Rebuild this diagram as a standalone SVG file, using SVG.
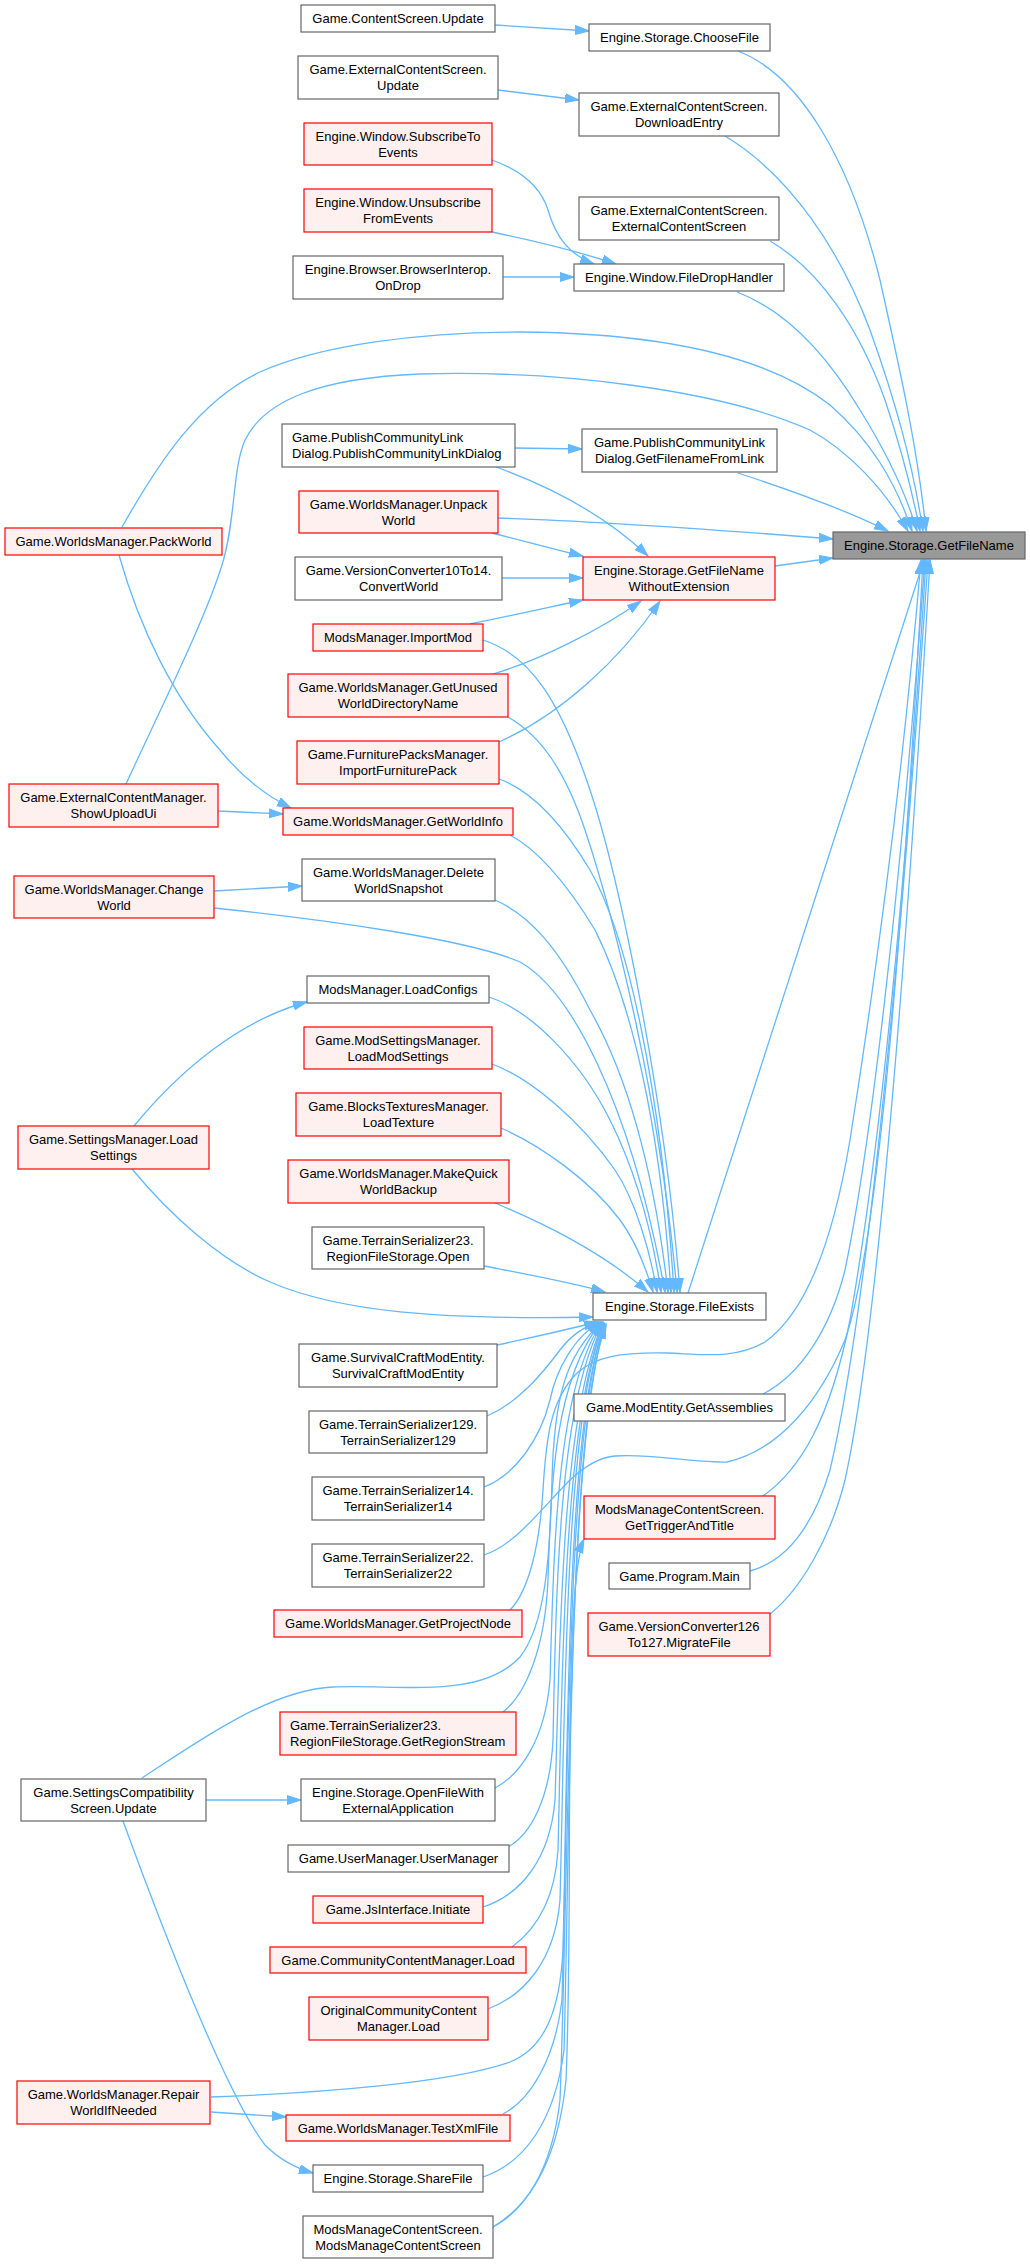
<svg xmlns="http://www.w3.org/2000/svg" width="1030" height="2264" viewBox="0 0 1030 2264">
<defs>
<marker id="ah" markerUnits="userSpaceOnUse" markerWidth="15" markerHeight="11" refX="14" refY="5" orient="auto"><path d="M0,0.5 L14,5 L0,9.5 z" fill="#63b8ff" stroke="#63b8ff" stroke-width="1"/></marker>
<style>
.n rect{fill:#ffffff;stroke:#666666;stroke-width:1.2}
.r rect{fill:#fff0f0;stroke:#ff0000;stroke-width:1.2}
.root rect{fill:#999999;stroke:#666666;stroke-width:1.2}
text{font-family:"Liberation Sans",Arial,sans-serif;font-size:13px;fill:#000000;text-anchor:middle}
text.l{text-anchor:start}
#edges path{fill:none;stroke:#63b8ff;stroke-width:1.3;marker-end:url(#ah)}
</style>
</defs>
<rect width="1030" height="2264" fill="#ffffff"/>
<g id="edges">
<path d="M738,51 C 800,75 850,160 880,280 C 900,370 918,450 926,531"/>
<path d="M725,136 C 790,175 840,250 870,330 C 895,400 912,460 923,531"/>
<path d="M770,241 C 820,270 860,330 885,400 C 900,445 912,490 920,531"/>
<path d="M737,292 C 790,312 830,360 860,410 C 885,450 905,490 917,531"/>
<path d="M122,527 C 160,460 200,400 260,372 C 320,345 420,332 520,332 C 640,333 760,350 830,405 C 870,440 895,480 912,531"/>
<path d="M126,784 C 160,710 205,620 222,565 C 236,520 232,470 245,440 C 265,400 320,378 420,374 C 560,370 720,390 810,430 C 850,452 885,490 908,531"/>
<path d="M738,473 C 790,490 850,512 888,531"/>
<path d="M498,518 C 600,521 720,530 833,539"/>
<path d="M775,566 L833,558"/>
<path d="M688,1293 C 740,1130 860,760 924,560"/>
<path d="M763,1394 C 800,1375 830,1330 845,1270 C 870,1150 900,900 925,560"/>
<path d="M763,1496 C 800,1470 830,1420 850,1320 C 880,1150 905,900 926,560"/>
<path d="M750,1571 C 790,1560 815,1520 830,1470 C 870,1300 905,900 928,560"/>
<path d="M770,1614 C 800,1590 830,1540 845,1480 C 880,1320 910,900 930,560"/>
<path d="M484,1555 C 515,1545 540,1510 570,1480 C 585,1466 600,1457 615,1456 C 650,1453 690,1463 727,1462 C 780,1450 820,1400 845,1340 C 880,1240 905,900 923,560"/>
<path d="M510,1610 C 530,1590 540,1540 543,1490 C 546,1440 550,1400 577,1373 C 595,1357 620,1352 667,1353 C 700,1354 735,1360 765,1342 C 810,1310 835,1230 850,1140 C 880,950 905,750 921,560"/>
<path d="M495,25 C 530,27 560,29 589,31"/>
<path d="M498,90 L579,100"/>
<path d="M492,160 C 520,170 540,185 548,210 C 556,238 570,255 594,264"/>
<path d="M492,232 C 530,240 580,252 616,264"/>
<path d="M503,277 L574,277"/>
<path d="M515,448 L582,449"/>
<path d="M496,467 C 560,490 610,520 648,556"/>
<path d="M492,533 C 520,540 550,548 583,556"/>
<path d="M502,578 L583,578"/>
<path d="M470,624 C 510,616 550,607 583,600"/>
<path d="M493,674 C 540,660 600,630 641,601"/>
<path d="M499,742 C 560,715 620,660 660,601"/>
<path d="M218,811 L283,814"/>
<path d="M119,555 C 140,630 175,700 220,750 C 240,775 265,795 291,808"/>
<path d="M214,891 L302,886"/>
<path d="M134,1126 C 180,1070 240,1020 307,1002"/>
<path d="M206,1800 L301,1800"/>
<path d="M123,1821 C 170,1950 230,2100 265,2145 C 280,2160 295,2168 313,2173"/>
<path d="M211,2112 L286,2117"/>
<path d="M483,640 C 530,655 560,700 590,790 C 620,880 665,1100 680,1292"/>
<path d="M508,717 C 540,735 565,770 585,830 C 615,920 660,1100 677,1292"/>
<path d="M499,779 C 530,790 560,820 590,870 C 630,940 662,1100 674,1292"/>
<path d="M510,835 C 535,848 565,880 595,930 C 630,1000 660,1120 671,1292"/>
<path d="M495,900 C 530,915 560,950 590,1010 C 630,1080 655,1180 668,1292"/>
<path d="M214,908 C 330,920 470,940 520,962 C 570,990 630,1100 665,1292"/>
<path d="M489,997 C 530,1010 580,1060 610,1120 C 635,1170 652,1230 661,1292"/>
<path d="M492,1064 C 530,1078 580,1120 615,1170 C 635,1200 650,1250 657,1292"/>
<path d="M501,1128 C 540,1145 590,1180 620,1220 C 635,1240 645,1265 653,1292"/>
<path d="M495,1203 C 540,1222 600,1250 648,1292"/>
<path d="M484,1266 C 520,1273 570,1282 605,1292"/>
<path d="M132,1169 C 170,1215 220,1260 270,1282 C 340,1312 440,1320 593,1317"/>
<path d="M497,1345 C 530,1338 565,1330 598,1322"/>
<path d="M487,1416 C 520,1402 545,1370 560,1350 C 572,1334 585,1326 600,1322"/>
<path d="M484,1487 C 515,1475 540,1440 550,1400 C 556,1370 575,1335 601,1322"/>
<path d="M503,1712 C 525,1695 545,1650 548,1580 C 551,1480 555,1380 601,1322"/>
<path d="M142,1778 C 200,1740 270,1690 333,1687 C 400,1684 480,1700 520,1657 C 545,1625 550,1560 552,1480 C 554,1400 565,1355 602,1322"/>
<path d="M495,1788 C 520,1775 545,1740 550,1680 C 554,1550 556,1390 602,1322"/>
<path d="M508,1847 C 530,1835 550,1800 553,1740 C 556,1600 558,1400 603,1322"/>
<path d="M483,1907 C 520,1895 550,1860 555,1800 C 560,1650 560,1420 603,1323"/>
<path d="M512,1947 C 535,1930 555,1900 558,1850 C 562,1700 562,1420 604,1323"/>
<path d="M488,2009 C 525,1995 555,1960 560,1900 C 565,1720 564,1420 604,1323"/>
<path d="M211,2097 C 320,2093 450,2083 510,2062 C 545,2048 560,2010 563,1950 C 568,1750 566,1420 605,1324"/>
<path d="M503,2114 C 530,2100 555,2060 562,2000 C 568,1800 567,1420 605,1324"/>
<path d="M483,2177 C 525,2163 555,2120 564,2050 C 570,1850 568,1420 606,1324"/>
<path d="M493,2227 C 525,2210 552,2170 560,2100 C 568,1900 568,1420 606,1325"/>
<path d="M493,2227 C 530,2205 558,2160 566,2080 C 574,1900 562,1590 584,1539"/>
</g>
<g id="n_getfilename" class="root"><rect x="833" y="532" width="192" height="27"/><text x="929" y="550">Engine.Storage.GetFileName</text></g>
<g id="n_choosefile" class="n"><rect x="589" y="24" width="181" height="27"/><text x="679.5" y="42">Engine.Storage.ChooseFile</text></g>
<g id="n_downloadentry" class="n"><rect x="579" y="93" width="200" height="43"/><text x="679" y="111">Game.ExternalContentScreen.</text><text x="679" y="127">DownloadEntry</text></g>
<g id="n_extcontentscreen" class="n"><rect x="579" y="197" width="200" height="43"/><text x="679" y="215">Game.ExternalContentScreen.</text><text x="679" y="231">ExternalContentScreen</text></g>
<g id="n_filedrophandler" class="n"><rect x="574" y="264" width="210" height="27"/><text x="679" y="282">Engine.Window.FileDropHandler</text></g>
<g id="n_getfilenamefromlink" class="n"><rect x="582" y="429" width="195" height="43"/><text x="679.5" y="447">Game.PublishCommunityLink</text><text x="679.5" y="463">Dialog.GetFilenameFromLink</text></g>
<g id="n_getfilenamewoext" class="r"><rect x="583" y="557" width="192" height="43"/><text x="679" y="575">Engine.Storage.GetFileName</text><text x="679" y="591">WithoutExtension</text></g>
<g id="n_fileexists" class="n"><rect x="593" y="1293" width="173" height="27"/><text x="679.5" y="1311">Engine.Storage.FileExists</text></g>
<g id="n_getassemblies" class="n"><rect x="574" y="1394" width="211" height="27"/><text x="679.5" y="1412">Game.ModEntity.GetAssemblies</text></g>
<g id="n_gettrigger" class="r"><rect x="584" y="1496" width="191" height="43"/><text x="679.5" y="1514">ModsManageContentScreen.</text><text x="679.5" y="1530">GetTriggerAndTitle</text></g>
<g id="n_programmain" class="n"><rect x="609" y="1563" width="141" height="26"/><text x="679.5" y="1581">Game.Program.Main</text></g>
<g id="n_migratefile" class="r"><rect x="588" y="1613" width="182" height="43"/><text x="679" y="1631">Game.VersionConverter126</text><text x="679" y="1647">To127.MigrateFile</text></g>
<g id="n_contentscreenupdate" class="n"><rect x="301" y="5" width="194" height="27"/><text x="398" y="23">Game.ContentScreen.Update</text></g>
<g id="n_extcsupdate" class="n"><rect x="298" y="56" width="200" height="43"/><text x="398" y="74">Game.ExternalContentScreen.</text><text x="398" y="90">Update</text></g>
<g id="n_subscribe" class="r"><rect x="304" y="123" width="188" height="42"/><text x="398" y="141">Engine.Window.SubscribeTo</text><text x="398" y="157">Events</text></g>
<g id="n_unsubscribe" class="r"><rect x="304" y="189" width="188" height="43"/><text x="398" y="207">Engine.Window.Unsubscribe</text><text x="398" y="223">FromEvents</text></g>
<g id="n_ondrop" class="n"><rect x="293" y="256" width="210" height="43"/><text x="398" y="274">Engine.Browser.BrowserInterop.</text><text x="398" y="290">OnDrop</text></g>
<g id="n_pcldialog" class="n"><rect x="282" y="424" width="233" height="43"/><text class="l" x="292" y="442">Game.PublishCommunityLink</text><text class="l" x="292" y="458">Dialog.PublishCommunityLinkDialog</text></g>
<g id="n_unpackworld" class="r"><rect x="299" y="491" width="199" height="42"/><text x="398.5" y="509">Game.WorldsManager.Unpack</text><text x="398.5" y="525">World</text></g>
<g id="n_convertworld" class="n"><rect x="295" y="557" width="207" height="43"/><text x="398.5" y="575">Game.VersionConverter10To14.</text><text x="398.5" y="591">ConvertWorld</text></g>
<g id="n_importmod" class="r"><rect x="313" y="624" width="170" height="27"/><text x="398" y="642">ModsManager.ImportMod</text></g>
<g id="n_getunused" class="r"><rect x="288" y="674" width="220" height="43"/><text x="398" y="692">Game.WorldsManager.GetUnused</text><text x="398" y="708">WorldDirectoryName</text></g>
<g id="n_importfurniture" class="r"><rect x="297" y="741" width="202" height="43"/><text x="398" y="759">Game.FurniturePacksManager.</text><text x="398" y="775">ImportFurniturePack</text></g>
<g id="n_getworldinfo" class="r"><rect x="283" y="808" width="230" height="27"/><text x="398" y="826">Game.WorldsManager.GetWorldInfo</text></g>
<g id="n_deletesnapshot" class="n"><rect x="302" y="859" width="193" height="42"/><text x="398.5" y="877">Game.WorldsManager.Delete</text><text x="398.5" y="893">WorldSnapshot</text></g>
<g id="n_loadconfigs" class="n"><rect x="307" y="976" width="182" height="27"/><text x="398" y="994">ModsManager.LoadConfigs</text></g>
<g id="n_loadmodsettings" class="r"><rect x="304" y="1027" width="188" height="42"/><text x="398" y="1045">Game.ModSettingsManager.</text><text x="398" y="1061">LoadModSettings</text></g>
<g id="n_loadtexture" class="r"><rect x="296" y="1093" width="205" height="43"/><text x="398.5" y="1111">Game.BlocksTexturesManager.</text><text x="398.5" y="1127">LoadTexture</text></g>
<g id="n_makequick" class="r"><rect x="288" y="1160" width="221" height="43"/><text x="398.5" y="1178">Game.WorldsManager.MakeQuick</text><text x="398.5" y="1194">WorldBackup</text></g>
<g id="n_rfsopen" class="n"><rect x="312" y="1227" width="172" height="42"/><text x="398" y="1245">Game.TerrainSerializer23.</text><text x="398" y="1261">RegionFileStorage.Open</text></g>
<g id="n_survivalcraft" class="n"><rect x="299" y="1344" width="198" height="43"/><text x="398" y="1362">Game.SurvivalCraftModEntity.</text><text x="398" y="1378">SurvivalCraftModEntity</text></g>
<g id="n_ts129" class="n"><rect x="309" y="1411" width="178" height="42"/><text x="398" y="1429">Game.TerrainSerializer129.</text><text x="398" y="1445">TerrainSerializer129</text></g>
<g id="n_ts14" class="n"><rect x="312" y="1477" width="172" height="43"/><text x="398" y="1495">Game.TerrainSerializer14.</text><text x="398" y="1511">TerrainSerializer14</text></g>
<g id="n_ts22" class="n"><rect x="312" y="1544" width="172" height="43"/><text x="398" y="1562">Game.TerrainSerializer22.</text><text x="398" y="1578">TerrainSerializer22</text></g>
<g id="n_getprojectnode" class="r"><rect x="274" y="1610" width="248" height="27"/><text x="398" y="1628">Game.WorldsManager.GetProjectNode</text></g>
<g id="n_getregionstream" class="r"><rect x="280" y="1712" width="236" height="43"/><text class="l" x="290" y="1730">Game.TerrainSerializer23.</text><text class="l" x="290" y="1746">RegionFileStorage.GetRegionStream</text></g>
<g id="n_openfileext" class="n"><rect x="301" y="1779" width="194" height="42"/><text x="398" y="1797">Engine.Storage.OpenFileWith</text><text x="398" y="1813">ExternalApplication</text></g>
<g id="n_usermanager" class="n"><rect x="288" y="1845" width="221" height="27"/><text x="398.5" y="1863">Game.UserManager.UserManager</text></g>
<g id="n_jsinterface" class="r"><rect x="313" y="1896" width="170" height="27"/><text x="398" y="1914">Game.JsInterface.Initiate</text></g>
<g id="n_communityload" class="r"><rect x="270" y="1947" width="256" height="26"/><text x="398" y="1965">Game.CommunityContentManager.Load</text></g>
<g id="n_origcommunity" class="r"><rect x="309" y="1997" width="179" height="43"/><text x="398.5" y="2015">OriginalCommunityContent</text><text x="398.5" y="2031">Manager.Load</text></g>
<g id="n_testxml" class="r"><rect x="286" y="2115" width="224" height="26"/><text x="398" y="2133">Game.WorldsManager.TestXmlFile</text></g>
<g id="n_sharefile" class="n"><rect x="313" y="2165" width="170" height="27"/><text x="398" y="2183">Engine.Storage.ShareFile</text></g>
<g id="n_modsmanagecs" class="n"><rect x="303" y="2216" width="190" height="42"/><text x="398" y="2234">ModsManageContentScreen.</text><text x="398" y="2250">ModsManageContentScreen</text></g>
<g id="n_packworld" class="r"><rect x="5" y="528" width="217" height="27"/><text x="113.5" y="546">Game.WorldsManager.PackWorld</text></g>
<g id="n_showuploadui" class="r"><rect x="9" y="784" width="209" height="43"/><text x="113.5" y="802">Game.ExternalContentManager.</text><text x="113.5" y="818">ShowUploadUi</text></g>
<g id="n_changeworld" class="r"><rect x="14" y="876" width="200" height="42"/><text x="114" y="894">Game.WorldsManager.Change</text><text x="114" y="910">World</text></g>
<g id="n_loadsettings" class="r"><rect x="18" y="1126" width="191" height="43"/><text x="113.5" y="1144">Game.SettingsManager.Load</text><text x="113.5" y="1160">Settings</text></g>
<g id="n_settingscompat" class="n"><rect x="21" y="1779" width="185" height="42"/><text x="113.5" y="1797">Game.SettingsCompatibility</text><text x="113.5" y="1813">Screen.Update</text></g>
<g id="n_repairworld" class="r"><rect x="17" y="2081" width="193" height="43"/><text x="113.5" y="2099">Game.WorldsManager.Repair</text><text x="113.5" y="2115">WorldIfNeeded</text></g>
</svg>
